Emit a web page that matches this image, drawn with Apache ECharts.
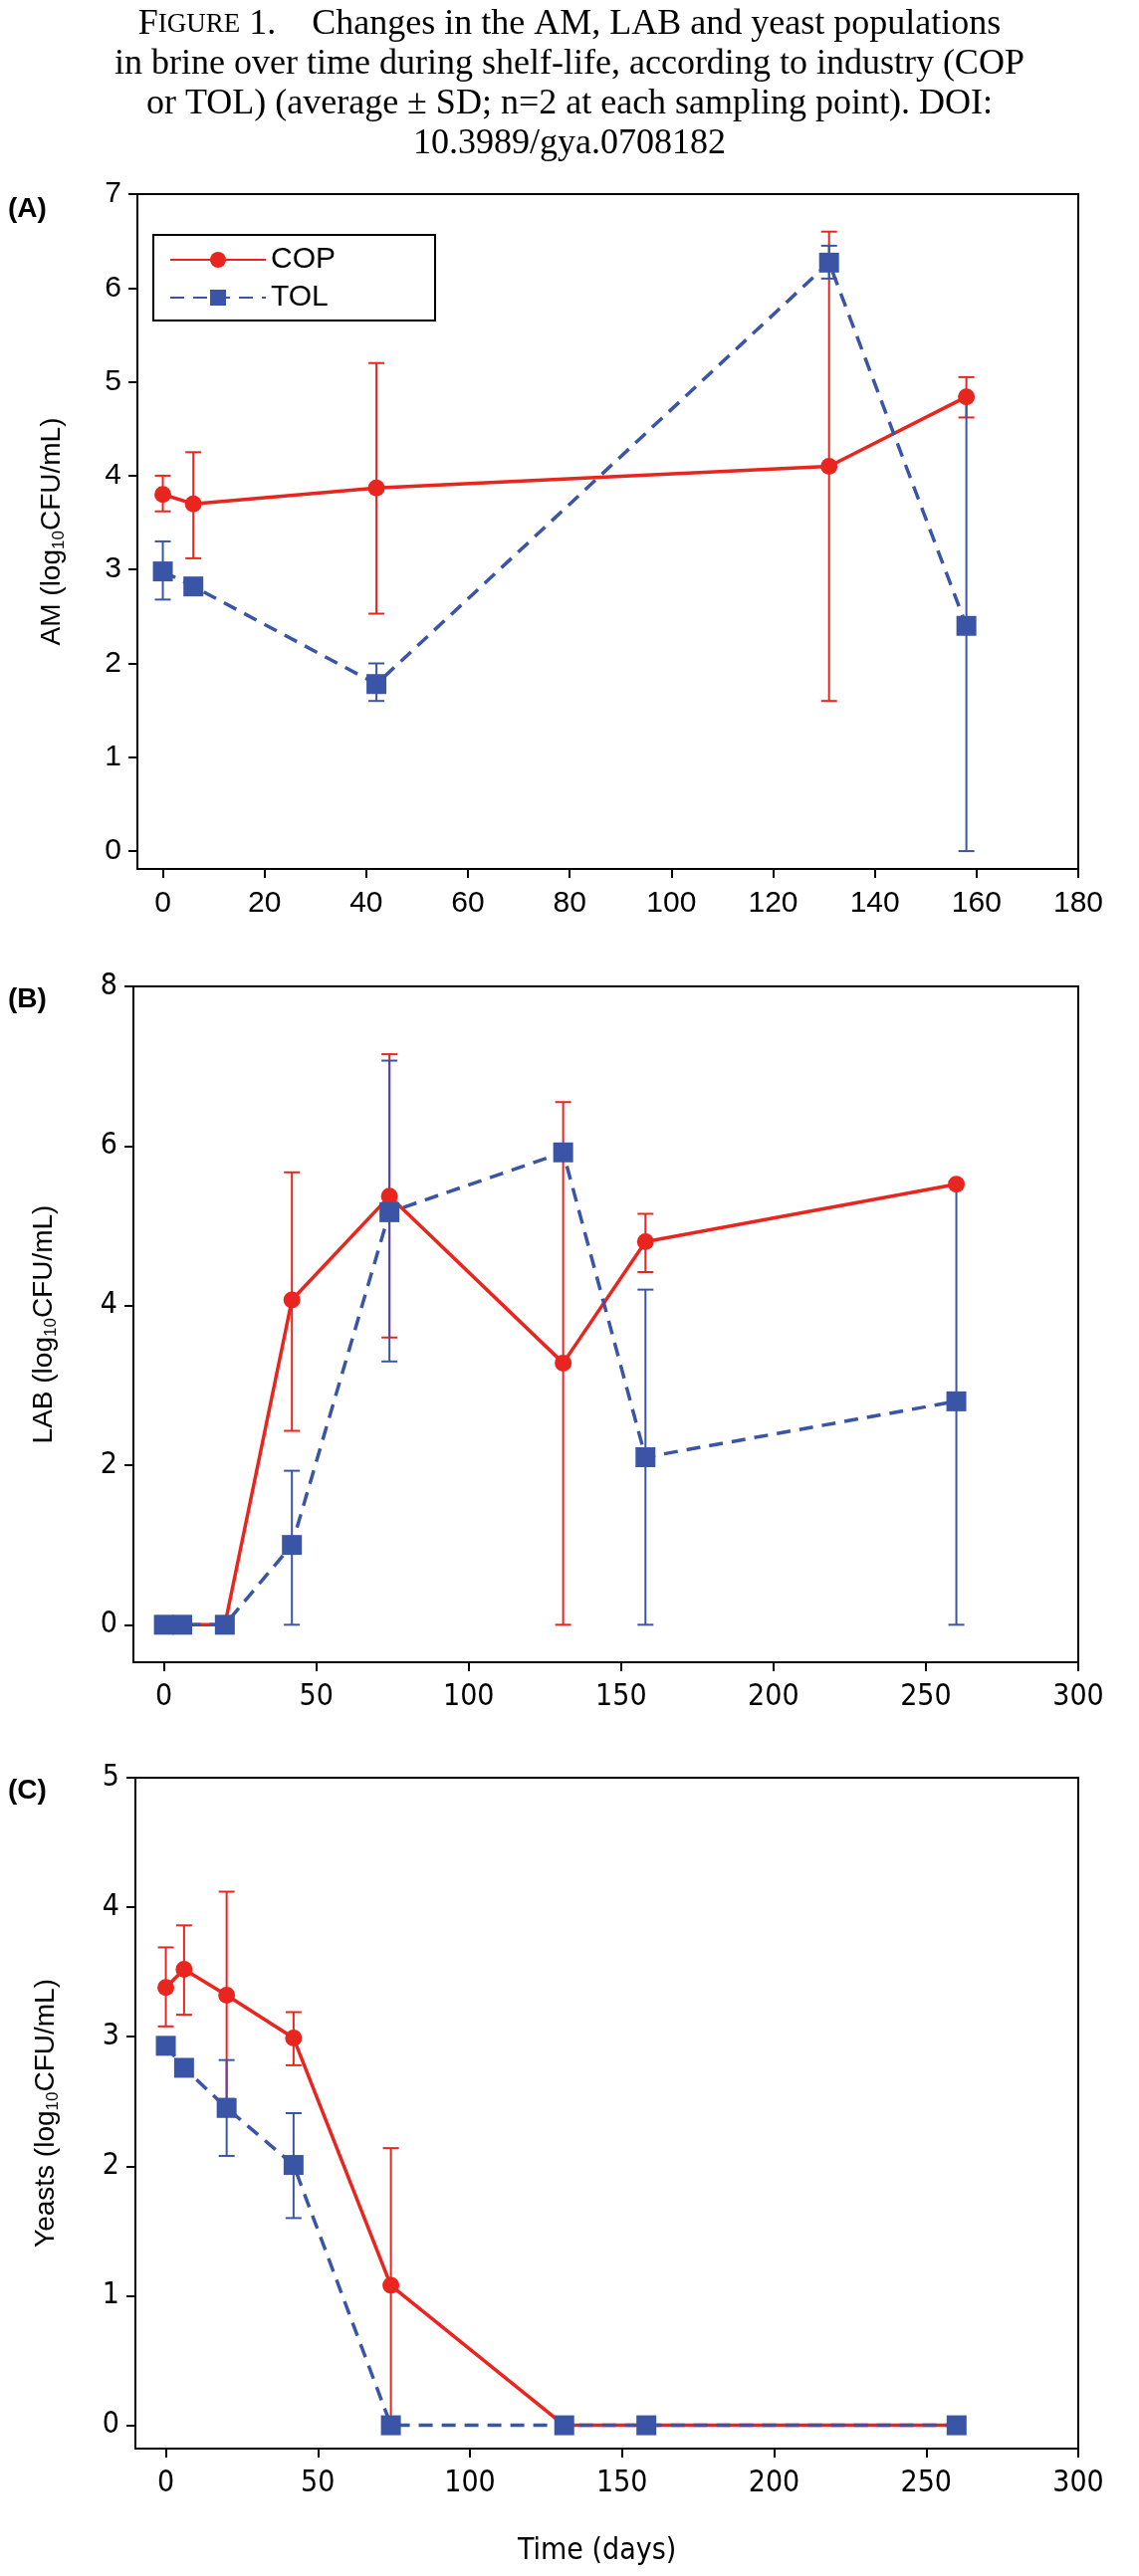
<!DOCTYPE html>
<html><head><meta charset="utf-8">
<script src="https://cdn.jsdelivr.net/npm/echarts@6/dist/echarts.min.js"></script>
<style>html,body{margin:0;padding:0;background:#fff}#c{width:1144px;height:2588px}</style>
</head><body><div id="c"></div>
<script>
// Panel A: AM
const daysA = [0, 6, 42, 131, 158];
const amCOP = [3.80, 3.70, 3.87, 4.10, 4.84];
const amCOPlo = [3.62, 3.12, 2.53, 1.60, 4.62];
const amCOPhi = [4.00, 4.25, 5.20, 6.60, 5.05];
const amTOL = [2.98, 2.82, 1.78, 6.27, 2.40];
const amTOLlo = [2.68, 2.78, 1.60, 6.10, 0.00];
const amTOLhi = [3.30, 2.86, 2.00, 6.45, 4.85];
// Panel B: LAB
const daysB = [0, 6, 20, 42, 74, 131, 158, 260];
const labCOP = [0, 0, 0, 4.07, 5.37, 3.28, 4.80, 5.52];
const labCOPlo = [0, 0, 0, 2.43, 3.60, 0.00, 4.42, 5.52];
const labCOPhi = [0, 0, 0, 5.67, 7.15, 6.55, 5.15, 5.52];
const labTOL = [0, 0, 0, 1.00, 5.17, 5.92, 2.10, 2.80];
const labTOLlo = [0, 0, 0, 0.00, 3.30, 5.92, 0.00, 0.00];
const labTOLhi = [0, 0, 0, 1.93, 7.07, 5.92, 4.20, 5.55];
// Panel C: Yeasts
const daysC = [0, 6, 20, 42, 74, 131, 158, 260];
const yCOP = [3.38, 3.52, 3.32, 2.99, 1.08, 0, 0, 0];
const yCOPlo = [3.08, 3.17, 2.52, 2.78, 0.00, 0, 0, 0];
const yCOPhi = [3.69, 3.86, 4.12, 3.19, 2.14, 0, 0, 0];
const yTOL = [2.93, 2.76, 2.45, 2.01, 0, 0, 0, 0];
const yTOLlo = [2.93, 2.76, 2.08, 1.60, 0, 0, 0, 0];
const yTOLhi = [2.93, 2.76, 2.82, 2.41, 0, 0, 0, 0];
const xTicksA = [0, 20, 40, 60, 80, 100, 120, 140, 160, 180];
const xTicksBC = [0, 50, 100, 150, 200, 250, 300];
const yTicksA = [0, 1, 2, 3, 4, 5, 6, 7];
const yTicksB = [0, 2, 4, 6, 8];
const yTicksC = [0, 1, 2, 3, 4, 5];

const RED = '#e8261f', BLUE = '#3b55a6';
const zip = (x, y) => x.map((v, i) => [v, y[i]]);
const zip3 = (x, lo, hi) => x.map((v, i) => [v, lo[i], hi[i]]);

const grids = [
  {left: 138, width: 945, top: 195, height: 678},
  {left: 134, width: 949, top: 991, height: 679},
  {left: 136, width: 947, top: 1786, height: 674}
];
grids.forEach(g => { g.show = true; g.borderColor = '#000'; g.borderWidth = 2; g.backgroundColor = 'transparent'; });

function xAxis(i, min, max, ticks, fam) {
  return {type: 'value', gridIndex: i, min, max,
    axisLine: {show: true, onZero: false, lineStyle: {color: '#000', width: 2}},
    axisTick: {show: true, customValues: ticks, length: 9, lineStyle: {color: '#000', width: 2}},
    axisLabel: {customValues: ticks, color: '#000', fontSize: 30, fontFamily: fam, margin: 20},
    splitLine: {show: false}};
}
function yAxis(i, min, max, ticks, name, gap) {
  return {type: 'value', gridIndex: i, min, max,
    axisLine: {show: true, onZero: false, lineStyle: {color: '#000', width: 2}},
    axisTick: {show: true, customValues: ticks, length: 9, lineStyle: {color: '#000', width: 2}},
    axisLabel: {customValues: ticks, color: '#000', fontSize: 30, fontFamily: i === 0 ? 'Liberation Sans' : 'DejaVu Sans Condensed', margin: 16},
    splitLine: {show: false},
    name: name, nameLocation: 'middle', nameGap: gap, nameRotate: 90,
    nameTextStyle: {color: '#000', fontSize: 28, fontFamily: 'Liberation Sans',
      rich: {s: {fontSize: 17, fontFamily: 'Liberation Sans', verticalAlign: 'bottom', padding: [14, 0, 0, 0]}}}};
}

function errSeries(idx, data, color) {
  return {type: 'custom', xAxisIndex: idx, yAxisIndex: idx, data, z: 3, silent: true,
    renderItem: (params, api) => {
      const x = api.value(0), lo = api.value(1), hi = api.value(2);
      if (lo === hi) return null;
      const p1 = api.coord([x, lo]), p2 = api.coord([x, hi]);
      const w = 8, st = {stroke: color, lineWidth: 2};
      return {type: 'group', children: [
        {type: 'line', shape: {x1: p1[0], y1: p1[1], x2: p2[0], y2: p2[1]}, style: st},
        {type: 'line', shape: {x1: p1[0] - w, y1: p1[1], x2: p1[0] + w, y2: p1[1]}, style: st},
        {type: 'line', shape: {x1: p2[0] - w, y1: p2[1], x2: p2[0] + w, y2: p2[1]}, style: st}
      ]};
    }};
}
function lineSeries(idx, name, data, color, dashed) {
  return {type: 'line', name, xAxisIndex: idx, yAxisIndex: idx, data, z: 4,
    symbol: dashed ? 'rect' : 'circle', symbolSize: dashed ? 20 : 17,
    itemStyle: {color}, lineStyle: {color, width: 3.5, type: dashed ? [14, 9] : 'solid'}};
}

const sub = (a, b) => a + '{s|10}' + b;

const option = {
  animation: false,
  backgroundColor: '#fff',
  title: {
    text: 'F{sc|IGURE} 1.    Changes in the AM, LAB and yeast populations\nin brine over time during shelf-life, according to industry (COP\nor TOL) (average ± SD; n=2 at each sampling point). DOI:\n10.3989/gya.0708182',
    left: 'center', top: 0,
    textStyle: {fontFamily: 'Liberation Serif', fontSize: 36, fontWeight: 'normal', color: '#000', lineHeight: 40, align: 'center',
      rich: {sc: {fontFamily: 'Liberation Serif', fontSize: 27, color: '#000', lineHeight: 40}}}
  },
  graphic: [
    {type: 'text', left: 8, top: 196, style: {text: '(A)', font: 'bold 28px Liberation Sans', fill: '#000'}},
    {type: 'text', left: 8, top: 990, style: {text: '(B)', font: 'bold 28px Liberation Sans', fill: '#000'}},
    {type: 'text', left: 8, top: 1785, style: {text: '(C)', font: 'bold 28px Liberation Sans', fill: '#000'}},
    {type: 'text', left: 520, top: 2548, style: {text: 'Time (days)', font: '30px DejaVu Sans Condensed', fill: '#000'}}
  ],
  legend: {
    show: true, data: ['COP', 'TOL'], left: 154, top: 236, orient: 'vertical',
    width: 313, padding: [10, 100, 8, 16], itemGap: 8,
    itemWidth: 96, itemHeight: 20, borderColor: '#000', borderWidth: 2, backgroundColor: '#fff',
    textStyle: {fontSize: 30, fontFamily: 'Liberation Sans', color: '#000'}
  },
  grid: grids,
  xAxis: [xAxis(0, -5, 180, xTicksA, 'Liberation Sans'), xAxis(1, -10, 300, xTicksBC, 'DejaVu Sans Condensed'), xAxis(2, -10, 300, xTicksBC, 'DejaVu Sans Condensed')],
  yAxis: [yAxis(0, -0.19, 7, yTicksA, sub('AM (log', 'CFU/mL)'), 70),
          yAxis(1, -0.47, 8, yTicksB, sub('LAB (log', 'CFU/mL)'), 74),
          yAxis(2, -0.18, 5, yTicksC, sub('Yeasts (log', 'CFU/mL)'), 74)],
  series: [
    errSeries(0, zip3(daysA, amCOPlo, amCOPhi), RED),
    errSeries(0, zip3(daysA, amTOLlo, amTOLhi), BLUE),
    lineSeries(0, 'COP', zip(daysA, amCOP), RED, false),
    lineSeries(0, 'TOL', zip(daysA, amTOL), BLUE, true),
    errSeries(1, zip3(daysB, labCOPlo, labCOPhi), RED),
    errSeries(1, zip3(daysB, labTOLlo, labTOLhi), BLUE),
    lineSeries(1, 'COP', zip(daysB, labCOP), RED, false),
    lineSeries(1, 'TOL', zip(daysB, labTOL), BLUE, true),
    errSeries(2, zip3(daysC, yCOPlo, yCOPhi), RED),
    errSeries(2, zip3(daysC, yTOLlo, yTOLhi), BLUE),
    lineSeries(2, 'COP', zip(daysC, yCOP), RED, false),
    lineSeries(2, 'TOL', zip(daysC, yTOL), BLUE, true)
  ]
};
echarts.init(document.getElementById('c')).setOption(option);
</script></body></html>
